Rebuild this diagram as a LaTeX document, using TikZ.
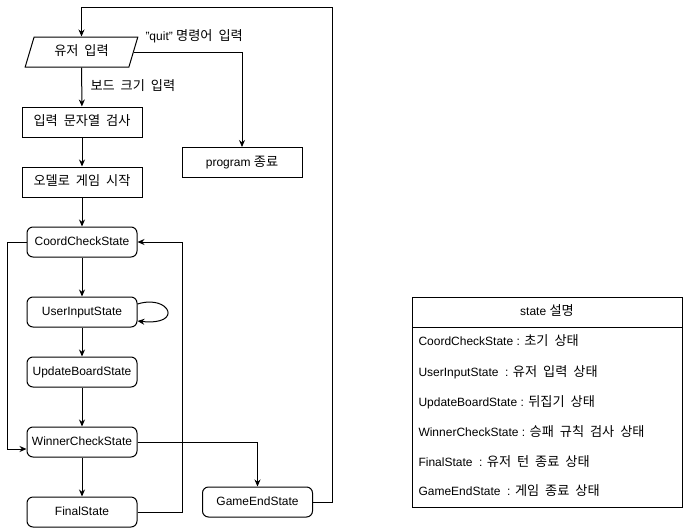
\documentclass[tikz,border=0pt]{standalone}
\usepackage{fontspec}
\setmainfont{Liberation Sans}
\newfontfamily\krfont[Scale=1.1,WordSpace=2]{Noto Sans CJK KR}
\newcommand\krt[1]{{\krfont #1}}
\usetikzlibrary{arrows.meta,shapes.geometric,calc}

\begin{document}
\begin{tikzpicture}[x=1pt,y=-1pt,
  font=\fontsize{12}{14}\selectfont,
  line width=1pt,
  txt/.style={text height=9pt,text depth=2pt},
  box/.style={draw,txt,minimum width=120pt,minimum height=30pt,inner sep=0pt},
  statebox/.style={draw,txt,rounded corners=6pt,minimum width=110pt,minimum height=30pt,inner sep=0pt},
  io/.style={draw,txt,trapezium,trapezium left angle=65,trapezium right angle=115,
             trapezium stretches=true,minimum width=113pt,minimum height=30pt,inner sep=0pt},
  flow/.style={-{Stealth[length=7pt,width=6pt]}},
  lbl/.style={txt,anchor=west,inner sep=0pt},
  row/.style={txt,anchor=west,inner sep=0pt}]
\useasboundingbox (0,0) rectangle (683,528);

% main flow
\node[io] (inp) at (81.5,52) {\krt{유저 입력}};
\node[box] (chk) at (82,122) {\krt{입력 문자열 검사}};
\node[box] (start) at (82,182) {\krt{오델로 게임 시작}};
\node[box] (prog) at (242,162.5) {program \krt{종료}};

% states
\node[statebox] (ccs) at (82,242) {CoordCheckState};
\node[statebox] (uis) at (82,312) {UserInputState};
\node[statebox] (ubs) at (82,372) {UpdateBoardState};
\node[statebox] (wcs) at (82,442) {WinnerCheckState};
\node[statebox] (fs) at (82,512) {FinalState};
\node[statebox] (ges) at (257.5,502) {GameEndState};

% connectors
\draw[flow] (inp) -- (chk);
\node[lbl] (lsize) at (90,87) {\krt{보드 크기 입력}};
\draw[flow] (inp.east) -| (prog.north);
\node[lbl] (lquit) at (145,37) {"quit" \krt{명령어 입력}};
\draw[flow] (chk) -- (start);
\draw[flow] (start) -- (ccs);
\draw[flow] (ccs) -- (uis);
\draw[flow] ($(uis.east)+(0,-8)$) .. controls (170,294) and (184,326) .. ($(uis.east)+(0,9)$);
\draw[flow] (uis) -- (ubs);
\draw[flow] (ubs) -- (wcs);
\draw[flow] (wcs) -- (fs);
\draw[flow] (ccs.west) -- (7,242) -- (7,449) -- ($(wcs.west)+(0,7)$);
\draw[flow] (fs.east) -- (182,512) -- (182,242) -- (ccs.east);
\draw[flow] (wcs.east) -| (ges.north);
\coordinate (topright) at (332,7);
\draw[flow] (ges.east) -| (topright) -| (inp.north);

% state legend table
\draw (412,297) rectangle (682,507);
\draw (412,327) -- (682,327);
\node[txt] (thead) at (547,312) {state \krt{설명}};
\node[row] (r1) at (418,342) {CoordCheckState : \krt{초기 상태}};
\node[row] (r2) at (418,372.5) {UserInputState\ \ : \krt{유저 입력 상태}};
\node[row] (r3) at (418,402.5) {UpdateBoardState : \krt{뒤집기 상태}};
\node[row] (r4) at (418,432.5) {WinnerCheckState : \krt{승패 규칙 검사 상태}};
\node[row] (r5) at (418,462.5) {FinalState\ \ : \krt{유저 턴 종료 상태}};
\node[row] (r6) at (418,492) {GameEndState\ \ : \krt{게임 종료 상태}};
\end{tikzpicture}
\end{document}
